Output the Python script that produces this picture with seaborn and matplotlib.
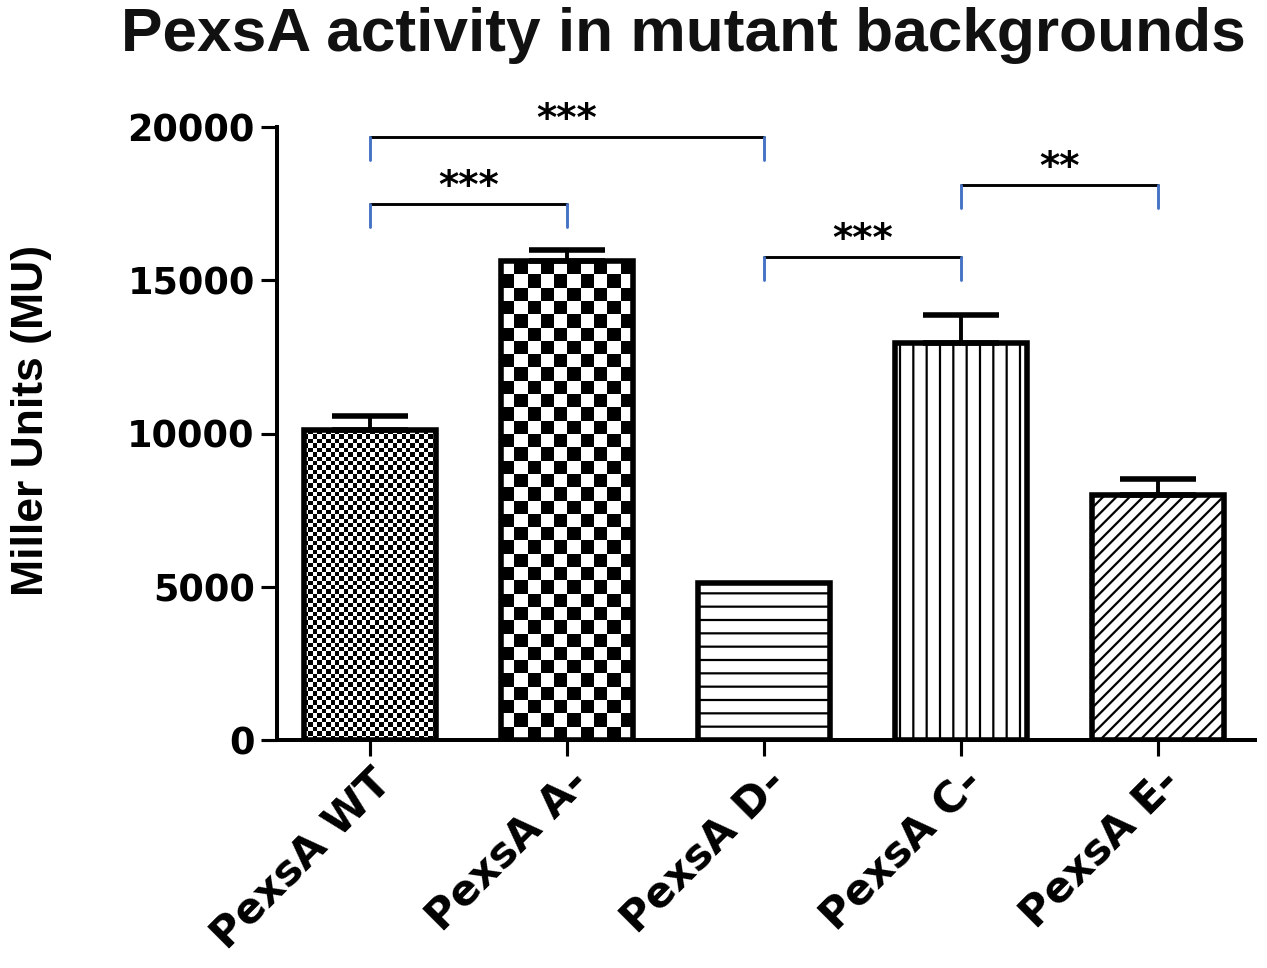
import numpy as np
import matplotlib
matplotlib.use("Agg")
import matplotlib.pyplot as plt
import seaborn as sns

# values
groups = ["PexsA WT", "PexsA A-", "PexsA D-", "PexsA C-", "PexsA E-"]
means = [10100, 15620, 5120, 12950, 7990]
sems = [480, 380, 0, 920, 540]

# significance comparisons (bar index pairs) and their stars
comp_pairs = [(0, 2), (0, 1), (2, 3), (3, 4)]
comp_stars = ["***", "***", "***", "**"]

yticks = [0, 5000, 10000, 15000, 20000]
title = "PexsA activity in mutant backgrounds"
ylabel = "Miller Units (MU)"


def make_checker(ax, bar, cell_px):
    """Fill a bar with a black/white checkerboard clipped to the bar."""
    x0, w, h = bar.get_x(), bar.get_width(), bar.get_height()
    p0 = ax.transData.transform((x0, 0))
    p1 = ax.transData.transform((x0 + w, h))
    cols = max(1, int(round((p1[0] - p0[0]) / cell_px)))
    rows = max(1, int(round((p1[1] - p0[1]) / cell_px)))
    board = np.add.outer(np.arange(rows), np.arange(cols)) % 2
    im = ax.imshow(board, extent=(x0, x0 + w, 0, h), cmap="gray", vmin=0, vmax=1,
                   interpolation="nearest", aspect="auto", origin="lower", zorder=2)
    im.set_clip_path(bar)
    bar.set_facecolor("none")


def main():
    sns.set_style("ticks")
    plt.rcParams["font.family"] = ["Liberation Sans", "DejaVu Sans"]
    plt.rcParams["hatch.linewidth"] = 2.0
    plt.rcParams["text.color"] = "black"
    plt.rcParams["xtick.labelcolor"] = "black"
    plt.rcParams["ytick.labelcolor"] = "black"

    dpi = 80
    fig = plt.figure(figsize=(1267 / dpi, 968 / dpi), dpi=dpi)
    ax = fig.add_axes([277 / 1267, 1 - 740 / 968, (1255 - 277) / 1267, (740 - 127) / 968])

    sns.barplot(x=groups, y=means, color="white", edgecolor="black", linewidth=5,
                width=0.67, saturation=1, errorbar=None, ax=ax)

    ax.set_xlim(-0.47, 4.49)
    ax.set_ylim(0, 20000)

    bars = ax.patches
    for b in bars:
        b.set_zorder(3)

    # fills: fine checker, coarse checker, horizontal, vertical, diagonal
    make_checker(ax, bars[0], 4.4)
    make_checker(ax, bars[1], 13.3)
    bars[2].set_hatch("-")
    bars[3].set_hatch("|")
    bars[4].set_hatch("//")
    ax.set_xlim(-0.47, 4.49)
    ax.set_ylim(0, 20000)

    x = np.arange(len(groups))
    has_err = np.array(sems) > 0
    ax.errorbar(x[has_err], np.array(means)[has_err],
                yerr=[np.zeros(has_err.sum()), np.array(sems)[has_err]], fmt="none",
                ecolor="black", elinewidth=3.5, capsize=34, capthick=5, zorder=4)

    # significance brackets
    bracket_y = [19680, 17490, 15760, 18110]
    drop = 760
    for (i, j), y, s in zip(comp_pairs, bracket_y, comp_stars):
        ax.plot([i, j], [y, y], color="black", lw=2.6, clip_on=False, zorder=5)
        ax.plot([i, i], [y, y - drop], color="#4472C4", lw=2.6, clip_on=False, zorder=5)
        ax.plot([j, j], [y, y - drop], color="#4472C4", lw=2.6, clip_on=False, zorder=5)
        ax.text((i + j) / 2, y + 200, s, ha="center", va="baseline", fontsize=35,
                fontweight="bold", family=["DejaVu Sans"], clip_on=False)

    sns.despine(ax=ax)
    for side in ["left", "bottom"]:
        ax.spines[side].set_linewidth(3.6)
        ax.spines[side].set_color("black")

    ax.set_yticks(yticks)
    ax.set_yticklabels([str(t) for t in yticks], fontsize=33, fontweight="bold",
                       family=["DejaVu Sans"])
    ax.tick_params(axis="both", width=2.8, length=14, direction="out", color="black")
    ax.tick_params(axis="y", pad=6)
    ax.tick_params(axis="x", pad=5)
    ax.set_xticks(x)
    ax.set_xticklabels(groups, rotation=45, ha="right", va="top",
                       rotation_mode="anchor", fontsize=38, fontweight="bold",
                       family=["DejaVu Sans"])
    ax.set_xlabel("")
    ax.set_ylabel("")

    fig.text(683 / 1267, 1 - 35 / 968, title, ha="center", va="center",
             fontsize=56, fontweight="bold", color="#111111")
    fig.text(32 / 1267, 1 - 420 / 968, ylabel, rotation=90, ha="center", va="center",
             fontsize=40, fontweight="bold")

    fig.savefig("out.png", dpi=dpi)


if __name__ == "__main__":
    main()
